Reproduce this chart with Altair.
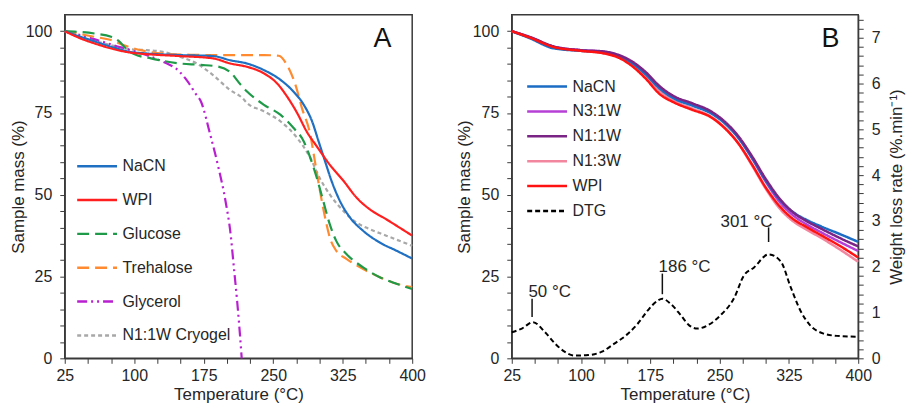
import altair as alt
import pandas as pd

# ---------------- Panel A data ----------------
a_names = ["NaCN", "WPI", "Glucose", "Trehalose", "Glycerol", "N1:1W Cryogel"]
a_colors = ["#1f6fc2", "#ff1f1f", "#1f9a48", "#ff8a30", "#b81fd0", "#a8a8a8"]
a_dashes = [[1, 0], [1, 0], [12, 6], [12, 6], [10, 4, 2, 4, 2, 4], [4, 3]]

nacn_t = [25, 42, 60, 78, 95, 113, 149, 185, 204, 222, 240, 258, 272, 283, 292, 299, 306, 313, 322, 333, 347, 365, 383, 400]
nacn_m = [100, 98.3, 96.6, 95.0, 93.7, 93.2, 92.7, 92.4, 91.1, 90.1, 88.1, 85.1, 81.5, 77.5, 72.4, 66.3, 60.2, 54.2, 48.1, 43.0, 39.0, 35.4, 32.9, 30.5]

wpi_t = [25, 42, 60, 78, 95, 113, 149, 185, 204, 222, 240, 254, 265, 276, 286, 297, 311, 326, 340, 354, 372, 400]
wpi_m = [100, 97.8, 96.0, 94.5, 93.5, 93.0, 92.4, 91.7, 90.1, 89.1, 87.1, 84.1, 80.0, 74.9, 69.4, 64.8, 59.2, 54.2, 49.1, 45.6, 42.5, 37.5]

glu_t = [25, 57, 75, 84, 90, 95, 100, 118, 147, 172, 190, 204, 215, 222, 240, 258, 272, 283, 290, 297, 304, 311, 318, 329, 347, 365, 383, 400]
glu_m = [100, 99.3, 98.3, 96.8, 95.0, 93.8, 93.0, 91.7, 90.2, 89.7, 89.2, 87.4, 83.6, 81.5, 77.5, 74.4, 70.4, 66.3, 61.3, 55.2, 48.1, 41.0, 35.9, 31.9, 27.8, 24.8, 22.8, 21.2]

tre_t = [25, 57, 75, 89, 107, 129, 160, 200, 240, 256, 265, 274, 281, 290, 295, 300.5, 306, 311, 318, 329, 347, 365, 383, 400]
tre_m = [100, 98.3, 97.3, 95.7, 94.2, 93.2, 92.8, 92.7, 92.7, 92.5, 89.6, 83.6, 76.5, 68.4, 60.2, 51.1, 43.0, 37.0, 32.9, 30.4, 27.3, 24.8, 22.8, 21.8]

gly_t = [25, 42, 60, 78, 95, 113, 131, 149, 158, 166, 172, 182, 191, 198.5, 204, 207.5, 211, 214, 216]
gly_m = [100, 98.8, 97.3, 95.7, 94.3, 92.7, 90.7, 87.6, 84.5, 81.0, 78.5, 68.4, 58.2, 48.1, 38.0, 27.9, 17.7, 7.6, 0]

cry_t = [25, 42, 60, 78, 95, 113, 131, 149, 167, 185, 203, 217, 222, 240, 258, 276, 290, 300, 311, 326, 340, 354, 372, 400]
cry_m = [100, 98.3, 96.8, 95.5, 94.5, 94.2, 93.7, 92.2, 90.2, 86.6, 82.1, 79.5, 78.0, 75.5, 72.4, 67.3, 61.3, 55.2, 50.1, 45.0, 41.5, 39.5, 37.5, 34.4]

# ---------------- Panel B data ----------------
b_names = ["NaCN", "N3:1W", "N1:1W", "N1:3W", "WPI", "DTG"]
b_colors = ["#1a6cc4", "#b63fd6", "#7a2585", "#f2869f", "#ff1212", "#000000"]
b_dashes = [[1, 0], [1, 0], [1, 0], [1, 0], [1, 0], [5, 3]]

b_t = [25, 45, 70, 100, 125, 140, 155, 170, 185, 200, 220, 240, 255, 270, 285, 300, 315, 330, 345, 360, 380, 400]
b_nacn = [100, 97.8, 94.8, 94.0, 93.6, 92.5, 90.3, 86.8, 82.5, 79.5, 77.3, 75.0, 72.0, 67.5, 61.3, 54.3, 48.5, 44.6, 42.2, 40.3, 38.0, 35.6]
b_n31 = [100, 98.1, 95.3, 94.2, 93.7, 92.6, 90.5, 87.2, 82.9, 79.9, 77.7, 75.3, 72.2, 67.6, 61.2, 54.0, 47.8, 43.6, 40.8, 38.5, 35.6, 32.8]
b_n11 = [100, 98.2, 95.4, 94.2, 93.8, 92.8, 90.8, 87.5, 83.2, 80.2, 78.0, 75.6, 72.5, 68.0, 61.8, 54.8, 48.8, 44.5, 41.8, 39.6, 36.8, 34.2]
b_n13 = [100, 98.0, 95.1, 94.0, 93.3, 92.2, 89.9, 86.3, 81.8, 78.8, 76.4, 74.0, 70.7, 65.8, 59.0, 51.8, 45.8, 41.8, 39.2, 36.8, 33.3, 29.5]
b_wpi = [100, 98.0, 95.2, 94.0, 93.2, 92.0, 89.4, 85.5, 80.8, 78.3, 76.0, 73.8, 70.5, 65.8, 59.3, 52.2, 46.5, 42.5, 40.0, 37.6, 34.4, 30.8]

dtg_t = [25, 36, 48, 61, 72, 82.5, 93, 107.5, 122, 136, 151, 161.5, 172, 183, 188, 197, 208, 217, 226, 237, 251, 266, 276, 287, 303, 316, 327, 337.5, 348, 362.5, 377, 400]
dtg_r = [0.57, 0.65, 0.79, 0.57, 0.32, 0.14, 0.06, 0.07, 0.14, 0.32, 0.54, 0.76, 1.04, 1.26, 1.30, 1.19, 0.94, 0.72, 0.65, 0.72, 0.94, 1.33, 1.80, 1.98, 2.27, 2.12, 1.55, 1.04, 0.72, 0.54, 0.49, 0.47]

peak_labels = ["50 °C", "186 °C", "301 °C"]
peak_t = [47, 188, 303]
peak_lo = [0.90, 1.40, 2.54]
peak_hi = [1.30, 1.85, 2.86]
label_t = [66, 212, 279]
label_r = [1.45, 1.99, 2.97]

panel_letters = ["A", "B"]
letter_t = [368, 370]
letter_m = [97.7, 97.7]

# ---------------- helpers ----------------
def long_df(pairs):
    rows = []
    for name, ts, vs in pairs:
        for t, v in zip(ts, vs):
            rows.append({"series": name, "temp": t, "val": v})
    return pd.DataFrame(rows)

dfA = long_df([
    ("N1:1W Cryogel", cry_t, cry_m),
    ("Glycerol", gly_t, gly_m),
    ("Trehalose", tre_t, tre_m),
    ("Glucose", glu_t, glu_m),
    ("NaCN", nacn_t, nacn_m),
    ("WPI", wpi_t, wpi_m),
])
dfB = long_df([
    ("N1:3W", b_t, b_n13),
    ("N3:1W", b_t, b_n31),
    ("NaCN", b_t, b_nacn),
    ("N1:1W", b_t, b_n11),
    ("WPI", b_t, b_wpi),
])
dfD = pd.DataFrame({"series": "DTG", "temp": dtg_t, "val": dtg_r})
dfPeaks = pd.DataFrame({"temp": peak_t, "lo": peak_lo, "hi": peak_hi})
dfPeakText = pd.DataFrame({"temp": label_t, "val": label_r, "label": peak_labels})
dfLetterA = pd.DataFrame({"temp": [letter_t[0]], "val": [letter_m[0]], "label": [panel_letters[0]]})
dfLetterB = pd.DataFrame({"temp": [letter_t[1]], "val": [letter_m[1]], "label": [panel_letters[1]]})

TXT = "#262626"

def xenc():
    return alt.X("temp:Q",
                 scale=alt.Scale(domain=[25, 400], nice=False, zero=False),
                 axis=alt.Axis(values=list(range(25, 401, 25)), labelFlush=False,
                               labelExpr="(datum.value - 25) % 75 == 0 ? datum.label : ''",
                               title="Temperature (°C)", labelPadding=4, titlePadding=3))

def yleft(tp):
    return alt.Y("val:Q",
                 scale=alt.Scale(domain=[0, 105], nice=False, zero=True),
                 axis=alt.Axis(values=list(range(0, 101, 5)), labelFlush=False,
                               labelExpr="datum.value % 25 == 0 ? datum.label : ''",
                               title="Sample mass (%)", labelPadding=8, titlePadding=tp))

right_vals = [round(0.2 * i, 1) for i in range(38)]

def yright(field="val"):
    return alt.Y(f"{field}:Q",
                 scale=alt.Scale(domain=[0, 7.5], nice=False, zero=True),
                 axis=alt.Axis(orient="right", values=right_vals, labelFlush=False,
                               labelExpr="abs(datum.value - round(datum.value)) < 0.01 ? format(datum.value, 'd') : ''",
                               title="Weight loss rate (%.min⁻¹)", titleAngle=-90, titleBaseline="top",
                               labelPadding=8, titlePadding=9))

def legend(x, y, rowpad):
    return alt.Legend(orient="none", legendX=x, legendY=y, title=None, symbolType="stroke",
                      symbolSize=1600, clipHeight=16, rowPadding=rowpad, labelFontSize=16,
                      labelColor=TXT, symbolStrokeWidth=2.5, labelOffset=4, padding=0)

# ---------------- Panel A ----------------
legA = legend(11, 144, 18)
a_lines = alt.Chart(dfA).mark_line(strokeWidth=2.2, interpolate="monotone").encode(
    x=xenc(), y=yleft(-2),
    color=alt.Color("series:N", scale=alt.Scale(domain=a_names, range=a_colors), legend=legA),
    strokeDash=alt.StrokeDash("series:N", scale=alt.Scale(domain=a_names, range=a_dashes), legend=legA),
)
a_letter = alt.Chart(dfLetterA).mark_text(fontSize=27, color="#111111", baseline="middle").encode(
    x=xenc(), y=yleft(-2), text="label:N")
panelA = alt.layer(a_lines, a_letter).properties(width=349, height=345)

# ---------------- Panel B ----------------
legB = legend(14, 64, 9)
b_lines = alt.Chart(dfB).mark_line(strokeWidth=2.5, interpolate="monotone").encode(
    x=xenc(), y=yleft(-1),
    color=alt.Color("series:N", scale=alt.Scale(domain=b_names, range=b_colors), legend=legB),
    strokeDash=alt.StrokeDash("series:N", scale=alt.Scale(domain=b_names, range=b_dashes), legend=legB),
)
b_letter = alt.Chart(dfLetterB).mark_text(fontSize=27, color="#111111", baseline="middle").encode(
    x=xenc(), y=yleft(-1), text="label:N")
dtg = alt.Chart(dfD).mark_line(strokeWidth=2, interpolate="monotone").encode(
    x=xenc(), y=yright(),
    color=alt.Color("series:N", scale=alt.Scale(domain=b_names, range=b_colors), legend=legB),
    strokeDash=alt.StrokeDash("series:N", scale=alt.Scale(domain=b_names, range=b_dashes), legend=legB),
)
peak_ticks = alt.Chart(dfPeaks).mark_rule(color="#111111", strokeWidth=1.5).encode(
    x=xenc(), y=yright("lo"), y2="hi:Q")
peak_text = alt.Chart(dfPeakText).mark_text(fontSize=17, color=TXT, baseline="middle").encode(
    x=xenc(), y=yright(), text="label:N")

panelB = alt.layer(
    alt.layer(b_lines, b_letter),
    alt.layer(dtg, peak_ticks, peak_text),
).resolve_scale(y="independent").properties(width=348, height=345)

chart = alt.hconcat(panelA, panelB, spacing=27).resolve_scale(
    color="independent", strokeDash="independent"
).properties(
    padding={"left": 0, "top": 5, "right": 0, "bottom": 0}
).configure(font="Liberation Sans").configure_view(
    stroke="#3a3a3a", strokeWidth=1.5
).configure_axis(
    labelFontSize=16, titleFontSize=17, labelColor=TXT, titleColor=TXT, titleFontWeight="normal",
    tickColor="#3a3a3a", domainColor="#3a3a3a", tickSize=5, grid=False, domainWidth=1.2
)

chart.save("out.html", embed_options={"renderer": "svg", "actions": False})
